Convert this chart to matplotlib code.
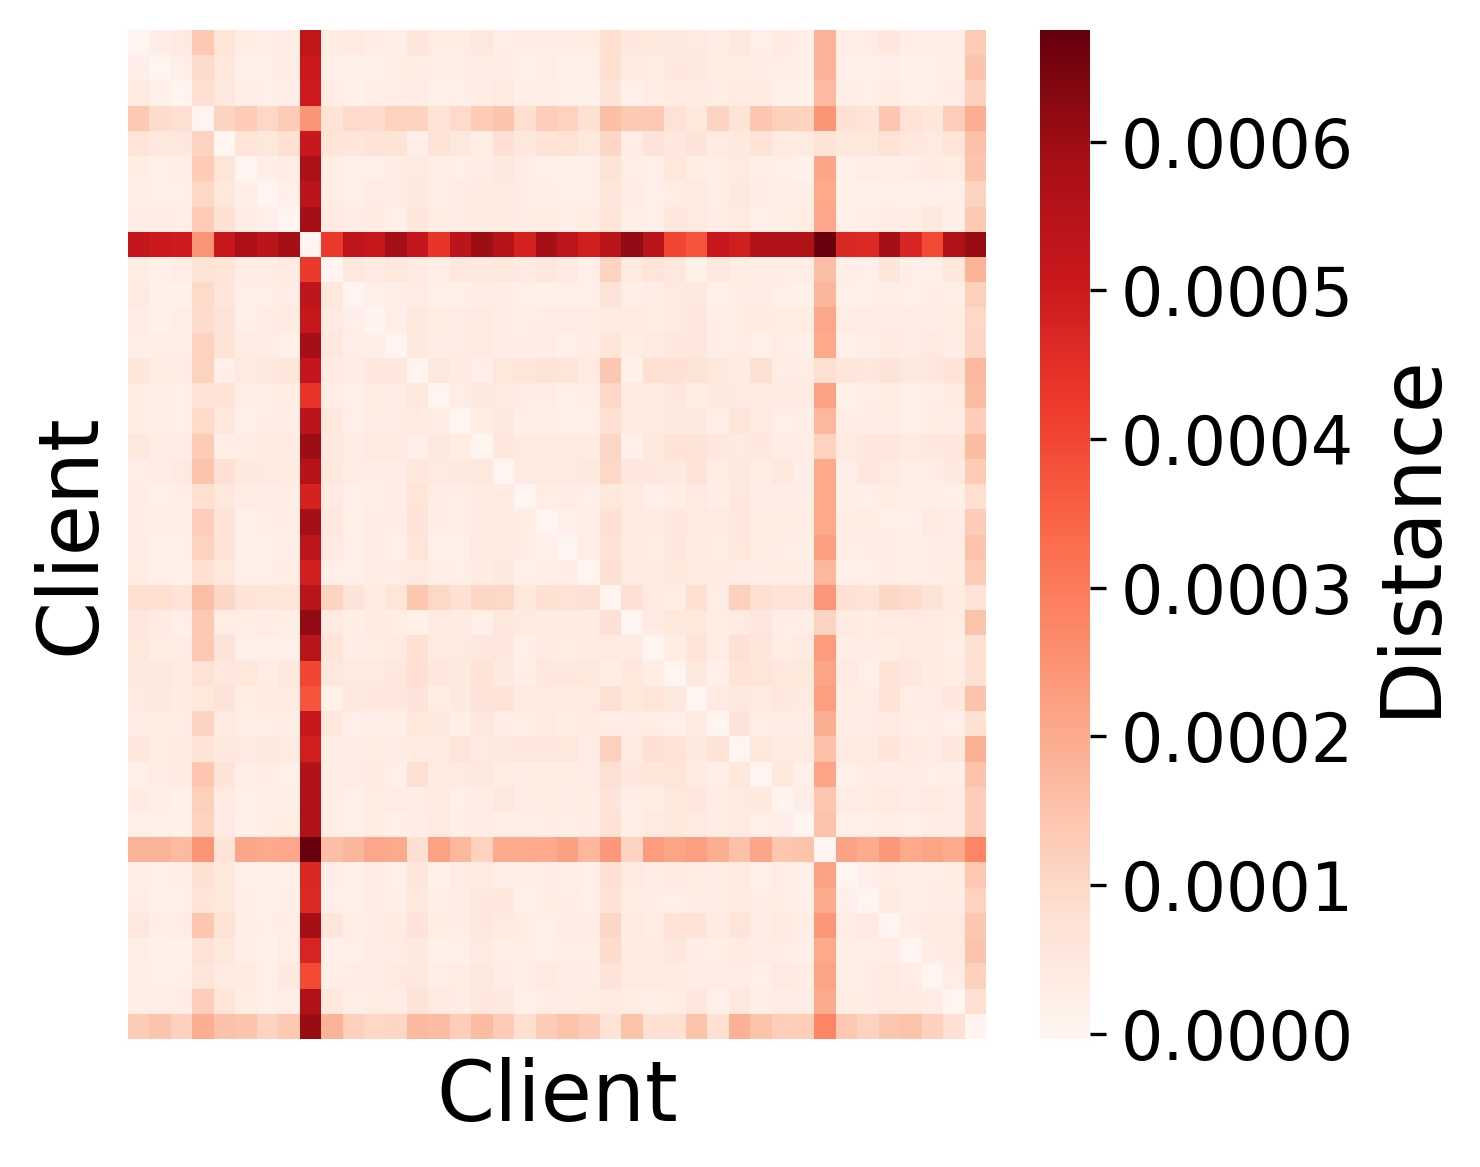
import matplotlib
matplotlib.use('Agg')
import matplotlib.pyplot as plt
import numpy as np

# Upper triangle of the client distance matrix, in units of 1e-6.
# Each row starts just right of the diagonal.
upper_rows = [
    [25,41,135,63,35,25,31,525,35,41,31,28,60,35,35,53,25,31,33,31,35,85,51,57,45,43,33,48,23,38,23,185,25,31,48,26,25,25,130],
    [23,90,51,21,23,33,505,21,17,19,28,35,25,25,33,31,21,26,17,21,85,37,35,48,45,35,35,33,28,23,180,23,19,25,15,21,28,145],
    [83,53,28,21,25,500,31,19,27,28,29,21,21,31,43,25,27,21,17,67,23,31,37,37,29,37,37,19,17,168,27,23,33,18,21,29,118],
    [110,130,100,130,245,70,95,90,115,115,70,95,130,145,85,125,115,80,160,135,135,75,57,110,70,140,120,115,245,80,65,140,75,60,125,195],
    [63,57,80,510,63,60,67,70,23,73,53,28,77,57,70,75,57,105,33,67,53,67,43,45,73,41,41,70,57,57,75,57,43,63,155],
    [25,31,570,35,23,21,29,43,27,23,33,45,29,23,17,23,70,27,23,57,35,27,41,25,21,17,210,21,25,27,25,37,35,145],
    [23,540,35,23,31,31,45,27,29,37,41,29,25,23,23,60,33,23,35,39,27,45,29,27,27,205,19,19,23,19,23,21,110],
    [590,43,31,38,23,60,35,33,37,37,33,35,25,35,63,28,23,51,43,31,43,23,28,35,208,23,25,31,31,45,25,135],
    [425,535,515,590,520,435,540,600,555,480,585,535,490,545,615,545,400,375,515,490,560,565,565,672,470,465,590,475,395,565,605],
    [48,41,51,38,28,48,45,48,43,53,43,21,110,41,65,51,19,51,35,33,35,31,160,25,23,60,21,21,48,180],
    [23,25,33,23,21,31,33,23,18,23,23,67,28,31,43,45,23,29,31,23,19,178,21,23,27,23,31,27,120],
    [25,48,35,31,43,29,27,29,31,31,38,37,35,41,51,25,35,37,35,35,208,29,33,31,29,31,35,100],
    [51,31,33,41,31,29,31,21,29,63,35,41,48,51,27,29,21,29,21,205,21,25,37,33,41,33,105],
    [51,38,23,57,63,67,63,41,140,19,80,77,67,57,37,83,29,29,83,60,53,67,45,53,70,170],
    [33,45,41,33,31,21,25,100,43,43,51,35,45,41,37,37,41,220,19,25,35,18,25,41,165],
    [35,45,25,25,21,23,80,37,41,45,45,27,61,43,23,25,175,29,29,31,23,35,33,125],
    [48,43,43,43,37,105,21,51,73,67,51,43,49,33,33,115,43,51,47,43,47,49,165],
    [43,39,41,45,100,51,47,45,70,31,45,35,47,25,205,25,49,41,27,31,45,130],
    [35,29,21,57,43,21,27,39,27,49,31,29,27,205,27,21,35,27,27,23,85],
    [21,25,80,39,37,51,41,39,53,35,35,29,205,29,35,23,23,43,31,128],
    [31,75,37,35,48,37,35,57,35,31,28,222,25,31,31,27,31,31,152],
    [77,37,37,57,39,39,31,31,35,29,175,21,23,29,27,29,35,130],
    [77,41,31,83,31,118,83,67,75,240,80,73,105,90,67,38,73],
    [38,57,57,29,41,49,25,27,108,41,35,43,39,41,35,148],
    [35,65,35,77,60,35,41,232,31,33,35,41,41,27,80],
    [45,21,73,61,55,55,215,43,21,73,48,37,35,80],
    [43,45,38,51,39,225,35,31,73,33,31,53,148],
    [67,28,31,31,195,33,31,43,28,31,21,80],
    [57,39,39,155,41,43,63,37,33,53,190],
    [45,23,212,21,31,33,29,23,25,150],
    [25,140,33,35,39,33,39,29,125],
    [150,23,23,27,23,31,29,125],
    [218,198,238,205,215,198,280],
    [23,29,27,27,35,138],
    [39,25,31,29,115],
    [31,39,41,140],
    [29,37,148],
    [31,118],
    [80],
]
cbar_ticks = [0.0, 0.0001, 0.0002, 0.0003, 0.0004, 0.0005, 0.0006]

n_clients = len(upper_rows) + 1
dist = np.zeros((n_clients, n_clients))
for i, row in enumerate(upper_rows):
    dist[i, i + 1:] = row
dist = (dist + dist.T) * 1e-6

W, H = 1480, 1167
fig = plt.figure(figsize=(W / 300, H / 300), dpi=300)
ax = fig.add_axes([128 / W, 1 - 1039 / H, 858 / W, 1009 / H])
cax = fig.add_axes([1040 / W, 1 - 1039 / H, 50 / W, 1009 / H])

mesh = ax.pcolormesh(dist, cmap='Reds', vmin=-3.4e-6, vmax=6.75e-4, antialiased=False)
ax.invert_yaxis()
ax.set_xticks([])
ax.set_yticks([])
for s in ax.spines.values():
    s.set_visible(False)
ax.set_xlabel('Client', fontsize=20, va='center')
ax.xaxis.set_label_coords(0.5, -0.058)
ax.set_ylabel('Client', fontsize=20, va='center')
ax.yaxis.set_label_coords(-0.067, 0.5)

cbar = fig.colorbar(mesh, cax=cax)
cbar.outline.set_visible(False)
cbar.set_ticks(cbar_ticks)
cbar.set_ticklabels([f'{t:.4f}' for t in cbar_ticks])
cbar.ax.tick_params(labelsize=16, length=3.8, width=0.8, pad=3.5)
cbar.set_label('Distance', fontsize=20, va='center')
cbar.ax.yaxis.set_label_coords(7.40, 0.5)

plt.savefig('out.png', dpi=300)
